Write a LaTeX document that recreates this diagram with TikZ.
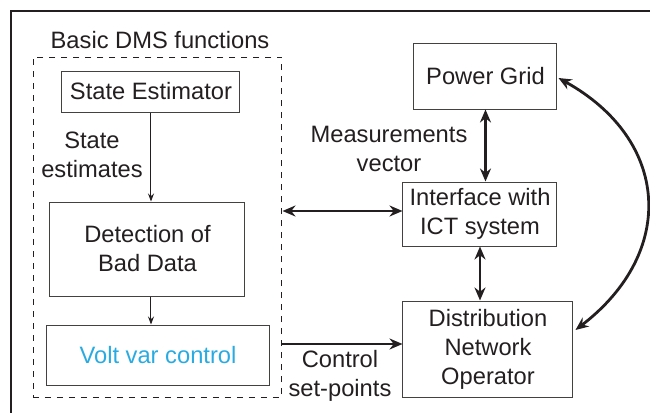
\documentclass[tikz,border=0pt]{standalone}
\usepackage{fontspec}
\setmainfont{Liberation Sans}
\usetikzlibrary{arrows.meta,calc}
\definecolor{vvc}{RGB}{41,171,226}
\definecolor{ink}{RGB}{35,31,32}
\begin{document}
\begin{tikzpicture}[x=0.5pt,y=-0.5pt,
  font=\fontsize{11.85}{14.5}\selectfont,
  box/.style={draw=ink!85,line width=0.5pt,inner sep=0pt,align=center,text=ink},
  thin/.style={draw=ink,line width=0.5pt,-{Stealth[length=4pt,width=3pt]}},
  thick/.style={draw=ink,line width=1.4pt,{Stealth[length=6.5pt,width=5.5pt]}-{Stealth[length=6.5pt,width=5.5pt]}},
  lbl/.style={align=center,text=ink,inner sep=0pt}]
\useasboundingbox (0,0) rectangle (650,413);
\draw[ink,line width=1pt] (650,11) -- (11,11) -- (11,413);
\node[lbl] (title) at (160,40) {Basic DMS functions};
\node[draw=ink,dashed,line width=0.5pt,minimum width=124.5pt,minimum height=170pt,inner sep=0pt] (dms) at (157.5,227) {};
\node[box,minimum width=89pt,minimum height=20.5pt] (se) at (151,91.5) {State Estimator};
\node[box,minimum width=97.5pt,minimum height=47pt] (det) at (147.5,249) {Detection of\\Bad Data};
\node[box,minimum width=112pt,minimum height=30pt,text=vvc] (vvc) at (158,355) {Volt var control};
\node[box,minimum width=71.5pt,minimum height=33pt] (pg) at (485.5,76) {Power Grid};
\node[box,minimum width=77pt,minimum height=32pt] (ict) at (480,214) {Interface with\\ICT system};
\node[box,minimum width=85pt,minimum height=48pt] (dno) at (488,349) {Distribution\\Network\\Operator};
\node[lbl] (se_lbl) at (92,155) {State\\estimates};
\node[lbl] (mv_lbl) at (389,149) {Measurements\\vector};
\node[lbl] (cs_lbl) at (340,376) {Control\\set-points};
\coordinate (dnoin) at ($(dno.west)+(0,-5)$);
\draw[thin] (se.south) -- (se.south |- det.north);
\draw[thin] (se.south |- det.south) -- (se.south |- vvc.north);
\draw[thick] (pg.south) -- (pg.south |- ict.north);
\draw[thick] (ict.south) -- (ict.south |- dno.north);
\draw[thick] ($(dms.east)+(0,-16)$) -- ($(ict.west)+(0,-3)$);
\draw[draw=ink,line width=1.4pt,-{Stealth[length=6.5pt,width=5.5pt]}] (dnoin -| dms.east) -- (dnoin);
\coordinate (dnor) at ($(dno.east)+(2,-19)$);
\coordinate (pgr) at ($(pg.east)+(1,2)$);
\draw[thick] (dnor) .. controls (677,252) and (670,140) .. (pgr);
\end{tikzpicture}
\end{document}
